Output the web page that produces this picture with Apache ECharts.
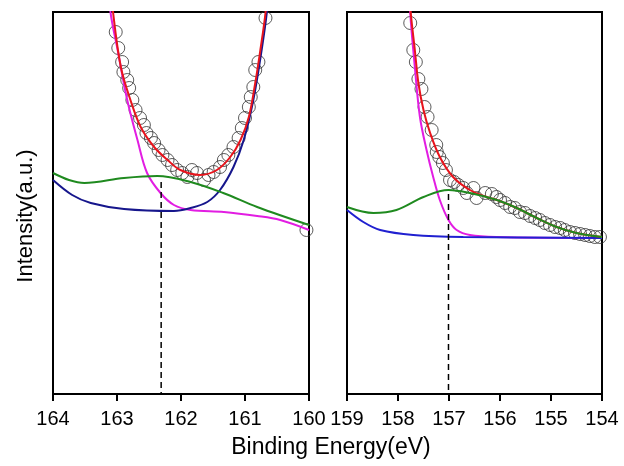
<!DOCTYPE html>
<html><head><meta charset="utf-8">
<script src="https://cdn.jsdelivr.net/npm/echarts@6/dist/echarts.min.js"></script>
<style>html,body{margin:0;padding:0;background:#fff}#c{width:624px;height:466px}</style>
</head><body><div id="c"></div>
<script>
// ---- Left panel ----
const leftTicks = [164, 163, 162, 161, 160];
const leftCircleE = [163.02,162.98,162.92,162.90,162.84,162.81,162.76,162.71,162.64,162.58,162.54,162.47,162.42,162.35,162.29,162.21,162.14,162.06,161.98,161.90,161.83,161.75,161.64,161.57,161.49,161.39,161.33,161.26,161.18,161.10,161.05,161.00,160.94,160.91,160.87,160.84,160.79,160.68,160.04];
const leftCircleI = [358,342,328,318,310,302,290,280,272,265,257,252,247,240,235,230,225,220,217,213,220,217,210,215,218,223,230,235,243,252,262,272,283,293,303,320,328,372,160];
const leftRedE = [163.10,163.06,162.94,162.79,162.63,162.42,162.21,162.01,161.70,161.44,161.23,161.07,160.94,160.84,160.76,160.68,160.64];
const leftRedI = [410,377,323,290,263,243,230,220,215,220,233,250,273,307,340,377,410];
const leftGreenE = [164.0,163.75,163.51,162.89,162.37,161.85,161.34,160.81,160.0];
const leftGreenI = [217,210,207,212,214,208,197,183,165];
const leftNavyE = [164.0,163.70,163.41,162.89,162.11,161.85,161.59,161.39,161.18,161.02,160.87,160.74,160.66,160.62];
const leftNavyI = [210,195,187,181,179,182,188,200,223,250,290,340,377,410];
const leftMagE = [163.14,163.10,162.99,162.84,162.68,162.53,162.32,162.11,161.85,161.33,160.81,160.45,160.0];
const leftMagI = [410,377,340,290,250,217,197,185,180,178,174,170,160];
const leftDashE = 162.31, leftDashTop = 208;

// ---- Right panel ----
const rightTicks = [159, 158, 157, 156, 155, 154];
const rightCircleE = [157.76,157.70,157.65,157.60,157.54,157.48,157.42,157.34,157.25,157.24,157.19,157.12,157.06,156.98,156.90,156.82,156.72,156.65,156.52,156.46,156.29,156.16,156.07,156.00,155.90,155.80,155.71,155.61,155.51,155.41,155.31,155.22,155.12,155.02,154.92,154.82,154.73,154.63,154.53,154.43,154.33,154.24,154.14,154.04];
const rightCircleI = [367,340,328,311,301,283,273,260,245,238,233,227,220,210,208,205,202,197,202,192,197,196,193,190,187,183,182,178,177,174,172,170,167,165,163,162,160,158,157,156,155,154,153,153];
const rightRedE = [157.80,157.75,157.67,157.60,157.50,157.37,157.18,156.92,156.59,156.26,156.06,155.67,155.28,154.89,154.50,154.0];
const rightRedI = [410,377,340,307,280,257,233,213,200,193,190,182,172,163,157,153];
const rightGreenE = [159.0,158.48,158.03,157.50,157.01,156.59,156.06,155.67,155.28,154.89,154.50,154.0];
const rightGreenI = [183,177,180,193,200,197,190,182,172,163,157,153];
const rightBlueE = [159.0,158.68,158.35,157.70,156.72,154.0];
const rightBlueI = [180,168,160,155,153,152];
const rightMagE = [157.79,157.76,157.67,157.57,157.44,157.31,157.18,157.01,156.85,156.59,156.07,154.0];
const rightMagI = [420,377,323,273,240,213,190,170,160,155,153,152];
const rightDashE = 157.01, rightDashTop = 196;

const yMin = -4, yMax = 378;
const FONT = '"Liberation Sans", Arial, sans-serif';

function pairs(xs, ys){ return xs.map((x,i)=>[x, ys[i]]); }
function lineS(idx, xs, ys, color){
  return {type:'line', xAxisIndex:idx, yAxisIndex:idx, data:pairs(xs,ys), smooth:0.35,
    symbol:'none', clip:true, lineStyle:{color:color, width:2}, silent:true, z:3};
}
function circS(idx, xs, ys){
  return {type:'scatter', xAxisIndex:idx, yAxisIndex:idx, data:pairs(xs,ys), symbol:'circle',
    symbolSize:13, itemStyle:{color:'rgba(0,0,0,0)', borderColor:'#333', borderWidth:1}, silent:true, z:2};
}
function dashS(idx, x, top){
  return {type:'line', xAxisIndex:idx, yAxisIndex:idx, data:[[x, top],[x, yMin]], symbol:'none',
    lineStyle:{color:'#000', width:1.5, type:[6,4]}, silent:true, z:4};
}
function xAx(idx, min, max){
  return {type:'value', gridIndex:idx, min:min, max:max, interval:1, inverse:true,
    axisLine:{show:true, onZero:false, lineStyle:{color:'#000', width:2}},
    axisTick:{show:true, inside:false, length:7, lineStyle:{color:'#000', width:2}},
    axisLabel:{show:true, color:'#000', fontSize:20, fontFamily:FONT, margin:15, showMinLabel:true, showMaxLabel:true},
    splitLine:{show:false}};
}
function yAx(idx){
  return {type:'value', gridIndex:idx, min:yMin, max:yMax, show:false, splitLine:{show:false}};
}

const chart = echarts.init(document.getElementById('c'), null, {renderer:'canvas'});
chart.setOption({
  animation:false,
  backgroundColor:'#fff',
  grid:[
    {left:53, top:12, width:256, height:382, show:true, borderColor:'#000', borderWidth:2, backgroundColor:'transparent'},
    {left:347, top:12, width:255, height:382, show:true, borderColor:'#000', borderWidth:2, backgroundColor:'transparent'}
  ],
  xAxis:[xAx(0, leftTicks[leftTicks.length-1], leftTicks[0]), xAx(1, rightTicks[rightTicks.length-1], rightTicks[0])],
  yAxis:[yAx(0), yAx(1)],
  series:[
    circS(0, leftCircleE, leftCircleI),
    lineS(0, leftMagE, leftMagI, '#e21de2'),
    lineS(0, leftNavyE, leftNavyI, '#16168c'),
    lineS(0, leftGreenE, leftGreenI, '#1f8a1f'),
    lineS(0, leftRedE, leftRedI, '#e8141c'),
    dashS(0, leftDashE, leftDashTop),
    circS(1, rightCircleE, rightCircleI),
    lineS(1, rightMagE, rightMagI, '#e21de2'),
    lineS(1, rightBlueE, rightBlueI, '#2020d0'),
    lineS(1, rightRedE, rightRedI, '#e8141c'),
    lineS(1, rightGreenE, rightGreenI, '#1f8a1f'),
    dashS(1, rightDashE, rightDashTop)
  ],
  graphic:[
    {type:'text', x:331, y:448, style:{text:'Binding Energy(eV)', fontSize:23, fontFamily:FONT, fill:'#000', textAlign:'center', textVerticalAlign:'middle'}},
    {type:'text', x:26, y:216, rotation:Math.PI/2, style:{text:'Intensity(a.u.)', fontSize:22, fontFamily:FONT, fill:'#000', textAlign:'center', textVerticalAlign:'middle'}}
  ]
});
</script></body></html>
